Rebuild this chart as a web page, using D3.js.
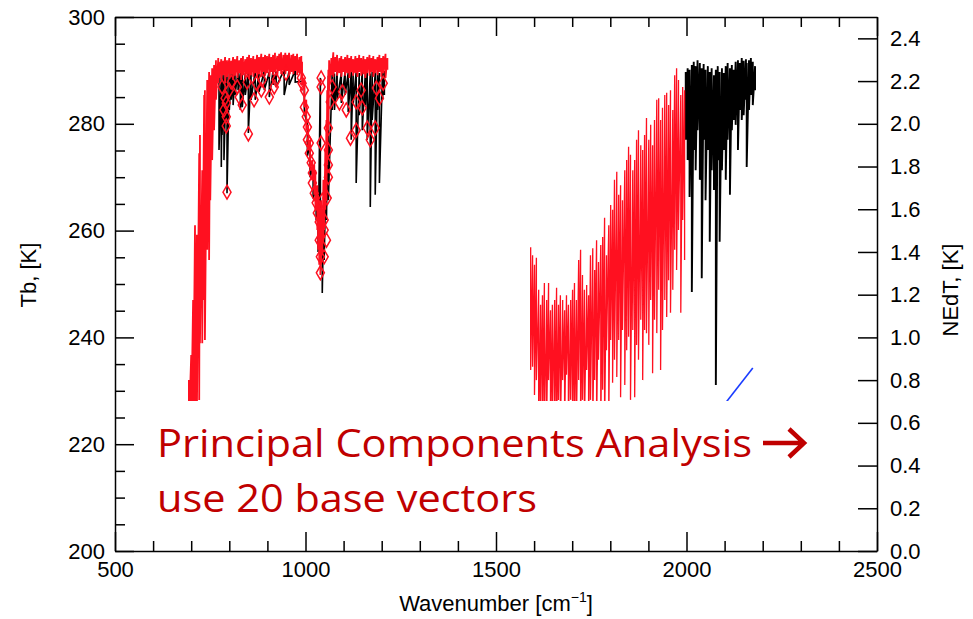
<!DOCTYPE html>
<html>
<head>
<meta charset="utf-8">
<script src="https://cdn.jsdelivr.net/npm/d3@7"></script>
<style>
  body { margin: 0; background: #fff; }
  svg { display: block; }
</style>
</head>
<body>
<svg id="chart" width="973" height="619" font-family="'Liberation Sans', Arial, sans-serif"></svg>
<script>
// spectra are kept as [wavenumber, high Tb, low Tb] per channel bin
const redBand1 = [
  [694, 232.0, 222.7], [700, 236.7, 222.7], [705, 247.0, 222.7], [710, 261.0, 222.7],
  [715, 259.2, 226.4], [721, 274.5, 228.3], [723, 277.9, 238.9], [729, 271.3, 238.9],
  [734, 285.4, 247.0], [736, 286.3, 239.5], [742, 288.2, 256.4], [747, 289.7, 254.5],
  [750, 289.1, 265.7], [755, 290.4, 273.2], [760, 291.0, 278.8], [765, 291.9, 284.5],
  [771, 292.3, 287.6], [773, 291.6, 288.6], [779, 292.1, 288.2], [784, 291.8, 289.1],
  [789, 292.5, 287.6], [794, 291.9, 288.8], [800, 292.3, 288.4], [805, 291.8, 289.3],
  [810, 292.5, 288.2], [815, 292.1, 289.0], [821, 292.7, 288.6], [826, 291.9, 289.5],
  [831, 292.3, 288.2], [836, 292.7, 289.1], [842, 292.1, 288.6], [847, 292.5, 289.3],
  [852, 292.9, 288.4], [857, 292.3, 289.1], [863, 292.7, 288.8], [868, 292.1, 289.5],
  [873, 292.9, 288.6], [878, 292.5, 289.3], [884, 293.1, 288.8], [889, 292.5, 289.7],
  [894, 292.9, 289.0], [899, 292.7, 289.5], [905, 293.1, 288.8], [910, 292.5, 289.7],
  [915, 292.9, 289.1], [920, 293.3, 289.7], [926, 292.7, 289.0], [931, 293.1, 289.9],
  [936, 293.4, 289.3], [942, 292.9, 290.1], [947, 293.3, 289.3], [952, 292.9, 289.9],
  [957, 293.3, 289.1], [963, 292.9, 289.7], [968, 293.1, 289.3], [973, 292.7, 289.9],
  [978, 293.1, 289.1], [984, 292.5, 289.5], [989, 292.7, 288.6], [991, 291.6, 287.3],
  [997, 288.2, 283.1], [1002, 284.5, 278.8], [1007, 279.8, 275.1], [1012, 277.0, 271.9],
  [1018, 273.2, 269.5], [1023, 272.3, 266.7], [1026, 271.3, 263.9], [1031, 268.5, 260.1],
  [1033, 266.7, 256.4], [1036, 264.8, 253.6], [1039, 262.9, 251.7], [1041, 265.7, 253.6],
  [1044, 263.9, 255.4], [1047, 269.5, 258.2], [1049, 267.6, 260.1], [1052, 275.1, 263.9],
  [1055, 280.7, 265.7], [1057, 286.3, 272.3], [1060, 290.1, 278.8], [1062, 291.9, 286.3],
  [1068, 292.3, 289.1], [1073, 293.4, 288.8], [1078, 292.5, 289.7], [1083, 292.9, 289.0],
  [1089, 292.3, 289.5], [1094, 292.7, 288.8], [1099, 292.1, 289.7], [1104, 292.5, 289.0],
  [1110, 292.9, 289.5], [1115, 292.3, 288.6], [1120, 292.7, 289.7], [1125, 292.1, 289.0],
  [1131, 292.7, 289.5], [1136, 292.3, 288.8], [1141, 292.9, 289.7], [1146, 292.3, 289.0],
  [1152, 292.7, 289.3], [1157, 292.1, 288.6], [1162, 292.5, 289.5], [1168, 292.9, 289.0],
  [1173, 292.3, 289.7], [1178, 292.7, 288.8], [1183, 292.1, 289.5], [1189, 292.5, 289.1],
  [1194, 292.9, 289.7], [1199, 292.3, 288.8], [1204, 292.7, 289.5], [1210, 293.1, 288.6],
  [1215, 292.3, 290.1]
]

const blackBand1 = [
  [773, 289.5, 275.1], [779, 289.3, 271.9], [781, 289.6, 277.9], [786, 289.2, 273.2],
  [792, 289.6, 280.7], [794, 289.4, 267.0], [800, 289.6, 282.6], [805, 289.3, 284.5],
  [810, 289.7, 283.5], [815, 289.4, 285.4], [823, 289.7, 286.3], [829, 289.5, 282.6],
  [834, 289.8, 283.1], [842, 289.5, 285.4], [850, 289.7, 278.3], [857, 289.6, 284.5],
  [868, 289.9, 284.5], [878, 289.6, 286.0], [892, 289.9, 286.3], [905, 289.7, 285.0],
  [915, 290.0, 287.3], [923, 289.8, 286.9], [944, 290.1, 285.4], [957, 289.9, 287.3],
  [973, 290.0, 287.8], [997, 288.0, 282.0], [1005, 280.0, 274.0], [1012, 276.0, 270.0],
  [1020, 272.0, 266.0], [1028, 268.0, 262.0], [1033, 266.0, 256.0], [1039, 288.6, 255.1],
  [1044, 262.0, 248.3], [1049, 268.0, 254.5], [1055, 275.0, 262.0], [1060, 289.0, 265.7],
  [1070, 289.6, 282.6], [1076, 289.4, 282.6], [1083, 289.7, 284.5], [1094, 289.5, 283.9],
  [1104, 289.8, 285.4], [1112, 289.5, 282.2], [1120, 289.7, 277.0], [1125, 289.4, 283.5],
  [1133, 289.7, 268.9], [1141, 289.5, 281.6], [1149, 289.8, 278.8], [1157, 289.5, 283.5],
  [1162, 289.7, 277.0], [1170, 289.4, 264.4], [1175, 289.7, 280.7], [1183, 289.5, 266.7],
  [1189, 289.8, 282.6], [1194, 289.5, 268.9], [1202, 289.7, 284.5], [1207, 289.9, 285.4]
]

// channels flagged with diamonds, [wavenumber, Tb]
const diamonds1 = [
  [781, 286.9], [789, 284.8], [792, 283.9], [786, 282.6], [792, 281.3], [792, 279.6],
  [794, 267.2], [800, 286.3], [805, 287.8], [821, 286.9], [826, 285.0], [834, 283.5],
  [850, 278.1], [847, 287.8], [865, 284.5], [871, 287.6], [884, 286.3], [886, 288.2],
  [905, 285.0], [918, 286.9], [923, 288.2], [949, 289.5], [989, 288.6], [991, 287.6],
  [997, 286.3], [997, 283.1], [1002, 281.3], [1005, 279.4], [1005, 277.0], [1010, 276.4],
  [1010, 274.5], [1015, 272.7], [1018, 270.8], [1018, 268.9], [1023, 267.0], [1028, 265.2],
  [1031, 263.3], [1036, 261.6], [1036, 258.2], [1039, 255.1], [1039, 252.1], [1041, 288.6],
  [1041, 286.9], [1041, 276.4], [1044, 265.7], [1049, 262.0], [1049, 260.1], [1055, 258.2],
  [1049, 255.1], [1060, 279.2], [1060, 275.1], [1060, 272.3], [1060, 270.0], [1057, 266.1],
  [1065, 284.1], [1070, 286.9], [1089, 283.9], [1097, 286.0], [1107, 282.6], [1118, 277.3],
  [1133, 278.8], [1133, 284.1], [1146, 286.3], [1149, 283.0], [1162, 279.2], [1170, 277.0],
  [1183, 279.2], [1194, 284.8], [1204, 287.6], [1186, 286.7]
]

const redBand2 = [
  [1591, 256.9, 233.9], [1596, 255.4, 234.5], [1601, 253.6, 229.2], [1606, 254.9, 232.0],
  [1612, 248.9, 222.7], [1617, 246.1, 226.4], [1622, 247.9, 222.7], [1627, 250.2, 222.7],
  [1633, 247.0, 224.5], [1638, 250.2, 232.0], [1643, 245.1, 222.7], [1648, 246.1, 224.5],
  [1654, 247.0, 222.7], [1659, 249.3, 222.7], [1664, 246.1, 228.3], [1669, 247.9, 222.7],
  [1675, 247.0, 232.0], [1680, 245.1, 222.7], [1685, 247.9, 233.0], [1690, 246.1, 222.7],
  [1696, 247.0, 228.3], [1701, 248.9, 222.7], [1706, 250.2, 224.5], [1711, 247.0, 222.7],
  [1717, 254.5, 232.0], [1722, 256.4, 222.7], [1727, 251.7, 228.3], [1732, 248.9, 222.7],
  [1738, 249.8, 233.9], [1743, 247.9, 222.7], [1748, 255.4, 228.3], [1754, 256.7, 222.7],
  [1759, 252.6, 232.0], [1764, 258.2, 222.7], [1769, 254.1, 235.8], [1775, 257.3, 222.7],
  [1780, 258.8, 230.2], [1785, 262.4, 222.7], [1790, 255.4, 237.6], [1796, 261.0, 224.5],
  [1801, 264.8, 239.5], [1806, 263.9, 231.5], [1811, 269.5, 235.8], [1817, 271.0, 232.6],
  [1822, 266.7, 239.5], [1827, 268.5, 228.8], [1832, 265.7, 241.4], [1838, 271.3, 231.1],
  [1843, 273.2, 237.6], [1848, 275.7, 240.1], [1853, 274.2, 228.3], [1859, 271.3, 241.4],
  [1864, 273.2, 228.8], [1869, 277.0, 238.6], [1874, 278.8, 235.8], [1880, 276.0, 243.3],
  [1885, 275.1, 232.0], [1890, 277.9, 241.4], [1895, 281.1, 240.8], [1901, 277.0, 238.6],
  [1906, 279.8, 247.0], [1911, 276.0, 233.3], [1916, 280.7, 243.3], [1922, 284.5, 240.8],
  [1927, 284.8, 248.9], [1932, 280.7, 233.9], [1937, 283.0, 241.4], [1943, 285.4, 247.0],
  [1948, 285.8, 243.8], [1953, 283.5, 250.7], [1958, 286.3, 244.6], [1964, 282.6, 248.9],
  [1969, 289.1, 256.4], [1974, 290.4, 252.6], [1979, 288.2, 260.1], [1985, 285.4, 244.6],
  [1990, 286.9, 262.0], [1995, 286.3, 254.5]
]

const blackBand2 = [
  [1998, 289.7, 277.0], [2003, 290.4, 273.2], [2008, 290.1, 266.3], [2014, 291.0, 248.5],
  [2019, 291.6, 275.1], [2024, 290.8, 271.3], [2029, 291.9, 278.8], [2035, 291.4, 269.5],
  [2040, 290.4, 251.1], [2045, 291.2, 277.0], [2050, 290.1, 265.7], [2056, 290.8, 275.1],
  [2061, 289.7, 257.9], [2066, 290.4, 271.3], [2072, 289.1, 267.6], [2077, 290.1, 231.1],
  [2082, 290.8, 273.2], [2087, 289.7, 257.9], [2093, 290.4, 271.3], [2098, 289.5, 275.1],
  [2103, 290.8, 269.5], [2108, 291.4, 277.0], [2114, 290.4, 266.7], [2119, 291.0, 278.8],
  [2124, 290.1, 280.7], [2129, 291.6, 279.8], [2135, 291.9, 275.1], [2140, 291.4, 282.6],
  [2145, 292.3, 280.7], [2150, 291.8, 281.6], [2156, 292.1, 284.5], [2158, 291.4, 271.9],
  [2164, 291.9, 282.6], [2169, 292.3, 285.4], [2174, 291.6, 283.5], [2180, 290.8, 286.3]
]

// NEdT curve, right axis [wavenumber, K]
const nedt = [[2040, 0.55], [2174, 0.857]]

const xTicks = [500, 1000, 1500, 2000, 2500]
const tbTicks = [200, 220, 240, 260, 280, 300]
const nedtTicks = [0, 0.2, 0.4, 0.6, 0.8, 1.0, 1.2, 1.4, 1.6, 1.8, 2.0, 2.2, 2.4]

const svg = d3.select('#chart')
const box = {left: 115, right: 877, top: 17, bottom: 551}

const x = d3.scaleLinear().domain([500, 2500]).range([box.left, box.right])
const y = d3.scaleLinear().domain([200, 300]).range([box.bottom, box.top])
const y2 = d3.scaleLinear().domain([0, 2.5]).range([box.bottom, box.top])

// each bin becomes a vertical stroke from its high to its low value
function spectrum (bins) {
  const pts = []
  bins.forEach(b => { pts.push([b[0], b[1]]); pts.push([b[0], b[2]]) })
  return d3.line().x(p => x(p[0])).y(p => y(p[1]))(pts)
}

const plot = svg.append('g')

plot.append('path').attr('d', spectrum(blackBand1))
  .attr('fill', 'none').attr('stroke', '#000').attr('stroke-width', 1.6)
plot.append('path').attr('d', spectrum(blackBand2))
  .attr('fill', 'none').attr('stroke', '#000').attr('stroke-width', 1.9)
plot.append('path').attr('d', spectrum(redBand1))
  .attr('fill', 'none').attr('stroke', '#ff1020').attr('stroke-width', 1.8)
plot.append('path').attr('d', spectrum(redBand2))
  .attr('fill', 'none').attr('stroke', '#ff1020').attr('stroke-width', 1.3)

plot.selectAll('path.dia').data(diamonds1).join('path')
  .attr('class', 'dia')
  .attr('transform', d => `translate(${x(d[0])},${y(d[1])})`)
  .attr('d', d3.symbol(d3.symbolDiamond, 56))
  .attr('fill', 'none').attr('stroke', '#ff1020').attr('stroke-width', 1.5)

plot.append('path')
  .attr('d', d3.line().x(d => x(d[0])).y(d => y2(d[1]))(nedt))
  .attr('fill', 'none').attr('stroke', '#1a3cff').attr('stroke-width', 1.6)

// white text box laid over the lower part of the plot
svg.append('rect')
  .attr('x', 142).attr('y', 401).attr('width', 700).attr('height', 128)
  .attr('fill', '#fff')

// axes, ticks point inward
function styleAxis (g) {
  g.selectAll('path, line').attr('stroke', '#000').attr('stroke-width', 1.5)
  g.selectAll('text').attr('font-size', 22).attr('fill', '#000')
    .attr('font-family', '"Liberation Sans", Arial, sans-serif')
}

const minorTb = d3.range(205, 300, 5).filter(v => v % 20 !== 0)
const minorX = d3.range(600, 2500, 100).filter(v => v % 500 !== 0)

svg.append('g').attr('transform', `translate(${box.left},0)`)
  .call(d3.axisLeft(y).tickValues(tbTicks).tickSize(-19).tickSizeOuter(0).tickPadding(10))
  .call(styleAxis)
svg.append('g').attr('transform', `translate(${box.left},0)`)
  .call(d3.axisLeft(y).tickValues(minorTb).tickSize(-10).tickFormat(''))
  .call(g => g.select('.domain').remove()).call(styleAxis)

svg.append('g').attr('transform', `translate(${box.right},0)`)
  .call(d3.axisRight(y2).tickValues(nedtTicks).tickSize(-19).tickSizeOuter(0)
    .tickPadding(13).tickFormat(d3.format('.1f')))
  .call(styleAxis)

svg.append('g').attr('transform', `translate(0,${box.bottom})`)
  .call(d3.axisBottom(x).tickValues(xTicks).tickSize(-19).tickSizeOuter(0)
    .tickPadding(10).tickFormat(d3.format('d')))
  .call(styleAxis)
svg.append('g').attr('transform', `translate(0,${box.bottom})`)
  .call(d3.axisBottom(x).tickValues(minorX).tickSize(-10).tickFormat(''))
  .call(g => g.select('.domain').remove()).call(styleAxis)

svg.append('g').attr('transform', `translate(0,${box.top})`)
  .call(d3.axisTop(x).tickValues(xTicks).tickSize(-19).tickSizeOuter(0).tickFormat(''))
  .call(styleAxis)
svg.append('g').attr('transform', `translate(0,${box.top})`)
  .call(d3.axisTop(x).tickValues(minorX).tickSize(-10).tickFormat(''))
  .call(g => g.select('.domain').remove()).call(styleAxis)

// axis titles
const xt = svg.append('text').attr('x', (box.left + box.right) / 2).attr('y', 611)
  .attr('text-anchor', 'middle').attr('font-size', 22)
xt.append('tspan').text('Wavenumber [cm')
xt.append('tspan').attr('dy', -9).attr('font-size', 14).text('−1')
xt.append('tspan').attr('dy', 9).text(']')

svg.append('text').attr('transform', 'translate(36,275) rotate(-90)')
  .attr('text-anchor', 'middle').attr('font-size', 22).text('Tb, [K]')
svg.append('text').attr('transform', 'translate(958,290) rotate(-90)')
  .attr('text-anchor', 'middle').attr('font-size', 22).text('NEdT, [K]')

// annotation
const note = svg.append('g').attr('fill', '#c00000')
  .attr('font-family', '"Open Sans", "Noto Sans", sans-serif').attr('font-size', 39)
note.append('text').attr('x', 157).attr('y', 457)
  .attr('textLength', 595).attr('lengthAdjust', 'spacingAndGlyphs')
  .text('Principal Components Analysis')
note.append('text').attr('x', 157).attr('y', 512)
  .attr('textLength', 380).attr('lengthAdjust', 'spacingAndGlyphs')
  .text('use 20 base vectors')
note.append('path')
  .attr('d', 'M763,443 H802 M789,429 L804,443 L789,457')
  .attr('fill', 'none').attr('stroke', '#c00000').attr('stroke-width', 4.5)
</script>
</body>
</html>
